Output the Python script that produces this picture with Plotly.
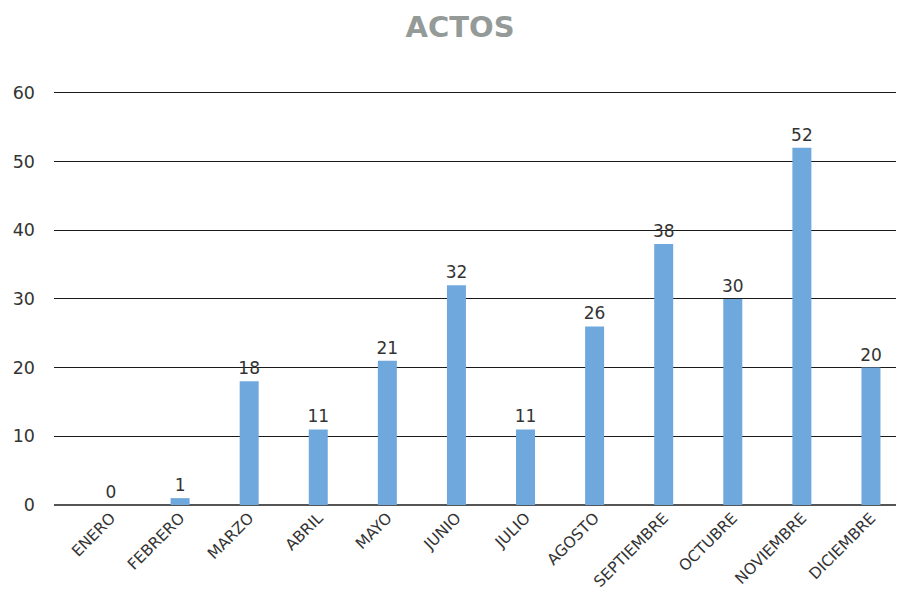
import plotly.graph_objects as go

months = ["ENERO", "FEBRERO", "MARZO", "ABRIL", "MAYO", "JUNIO", "JULIO",
          "AGOSTO", "SEPTIEMBRE", "OCTUBRE", "NOVIEMBRE", "DICIEMBRE"]
actos = [0, 1, 18, 11, 21, 32, 11, 26, 38, 30, 52, 20]
y_ticks = [0, 10, 20, 30, 40, 50, 60]

FONT = "DejaVu Sans"

fig = go.Figure(go.Bar(
    x=list(range(len(months))), y=actos,
    text=[str(v) for v in actos], textposition="outside",
    constraintext="none",
    textfont=dict(size=17, color="#333333", family=FONT),
    marker=dict(color="#6fa8dc", line=dict(width=0)),
    width=0.275, cliponaxis=False,
))

fig.update_layout(
    width=896, height=585,
    paper_bgcolor="white", plot_bgcolor="white",
    margin=dict(l=46, r=0, t=78, b=88),
    title=dict(text="<b>ACTOS</b>", x=0.5045, xanchor="center", y=0.9675, yanchor="middle",
               font=dict(size=29, color="#949a97", family=FONT)),
    showlegend=False,
    font=dict(family=FONT, color="#333333"),
)
fig.update_xaxes(
    tickmode="array", tickvals=list(range(len(months))), ticktext=months,
    tickangle=-45, tickfont=dict(size=15.5, color="#333333", family=FONT),
    range=[-0.825, 11.478], showgrid=False, showline=False, zeroline=False,
    automargin=False,
)
fig.update_yaxes(
    range=[0, 61], tickvals=y_ticks, tickfont=dict(size=17.5, color="#333333", family=FONT),
    showgrid=True, gridcolor="#1a1a1a", gridwidth=1.3,
    zeroline=True, zerolinecolor="#555555", zerolinewidth=1.5,
    ticklabelstandoff=18, showline=False, automargin=False,
)

fig.write_html("out.html")
